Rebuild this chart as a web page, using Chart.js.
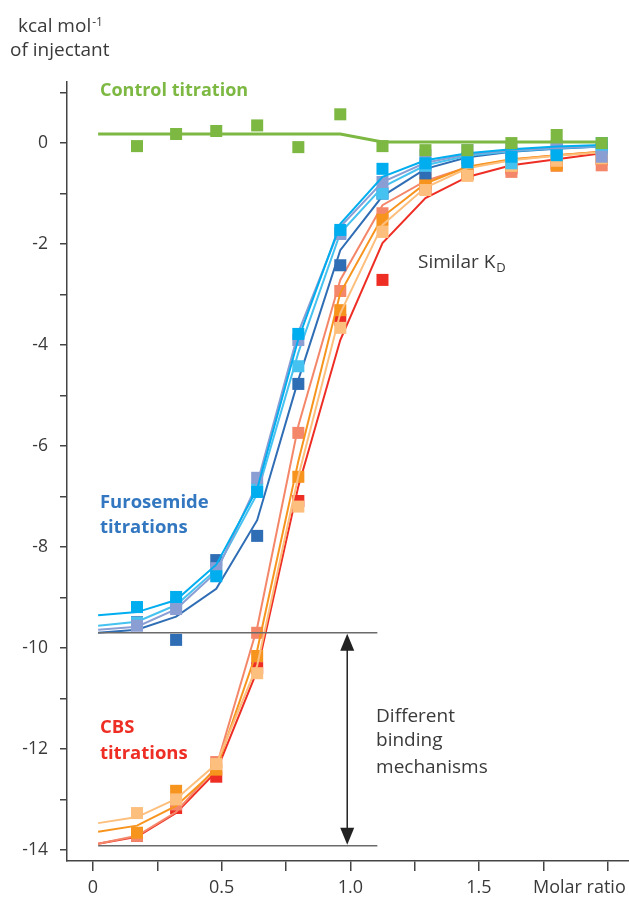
<!DOCTYPE html>
<html><head><meta charset="utf-8">
<script src="https://cdn.jsdelivr.net/npm/chart.js@4.4.1/dist/chart.umd.min.js"></script>
<style>html,body{margin:0;padding:0;background:#fff;overflow:hidden}</style>
</head><body>
<canvas id="c" width="629" height="902"></canvas>
<script>
// ---- Data (molar ratio, kcal/mol of injectant) ----
const xFit = [0.02, 0.171, 0.323, 0.479, 0.638, 0.798, 0.961, 1.125, 1.292, 1.455, 1.626, 1.802, 1.977];
const xPts = [0.171, 0.323, 0.479, 0.638, 0.798, 0.961, 1.125, 1.292, 1.455, 1.626, 1.802, 1.977];

const controlPts = [-0.06, 0.18, 0.24, 0.35, -0.08, 0.57, -0.06, -0.14, -0.14, 0.0, 0.16, 0.0];
const controlFit = [0.18, 0.18, 0.18, 0.18, 0.18, 0.18, 0.18, 0.02, 0.02, 0.02, 0.02, 0.02, 0.02];

const furoDarkPts  = [-9.49, -9.84, -8.26, -7.78, -4.77, -2.42, -1.0, -0.6, -0.3, -0.2, -0.12, -0.08];
const furoDarkFit  = [-9.70, -9.64, -9.38, -8.83, -7.47, -4.69, -2.12, -1.05, -0.51, -0.28, -0.17, -0.11, -0.07];
const furoLavPts   = [-9.56, -9.23, -8.42, -6.63, -3.9, -1.8, -0.77, -0.24, -0.14, -0.08, -0.05, -0.27];
const furoLavFit   = [-9.64, -9.58, -9.23, -8.50, -6.75, -3.75, -1.66, -0.77, -0.39, -0.22, -0.14, -0.09, -0.06];
const furoLightPts = [-9.50, -9.12, -8.50, -6.85, -4.42, -1.78, -1.0, -0.45, -0.32, -0.40, -0.20, -0.10];
const furoLightFit = [-9.56, -9.48, -9.15, -8.45, -6.95, -4.15, -1.78, -0.87, -0.44, -0.25, -0.16, -0.10, -0.07];
const furoCyanPts  = [-9.19, -8.99, -8.58, -6.91, -3.78, -1.72, -0.51, -0.40, -0.38, -0.27, -0.24, 0.0];
const furoCyanFit  = [-9.35, -9.29, -9.05, -8.35, -6.85, -3.88, -1.60, -0.67, -0.34, -0.20, -0.12, -0.07, -0.04];

const cbsRedPts    = [-13.72, -13.17, -12.55, -10.40, -7.09, -3.50, -2.71, -0.90, -0.62, -0.50, -0.40, -0.32];
const cbsRedFit    = [-13.88, -13.74, -13.27, -12.45, -10.45, -6.80, -3.90, -1.98, -1.09, -0.67, -0.44, -0.32, -0.20];
const cbsSalPts    = [-13.72, -13.10, -12.26, -9.70, -5.74, -2.93, -1.39, -0.70, -0.50, -0.57, -0.45, -0.44];
const cbsSalFit    = [-13.88, -13.72, -13.25, -12.36, -9.60, -5.60, -2.71, -1.23, -0.75, -0.48, -0.33, -0.24, -0.17];
const cbsOrPts     = [-13.66, -12.83, -12.41, -10.16, -6.61, -3.31, -1.52, -0.80, -0.60, -0.45, -0.44, -0.30];
const cbsOrFit     = [-13.64, -13.52, -13.13, -12.40, -10.05, -6.30, -2.97, -1.46, -0.80, -0.47, -0.32, -0.24, -0.17];
const cbsLoPts     = [-13.27, -13.00, -12.30, -10.50, -7.20, -3.66, -1.76, -0.93, -0.65, -0.45, -0.35, -0.30];
const cbsLoFit     = [-13.47, -13.35, -12.99, -12.30, -10.35, -6.60, -3.37, -1.62, -0.88, -0.50, -0.34, -0.25, -0.18];

const xTickLabels = {"0": "0", "0.5": "0.5", "1": "1.0", "1.5": "1.5"};
const yTickLabels = [0, -2, -4, -6, -8, -10, -12, -14];

// annotation anchors (data units)
const refLevels = [-9.70, -13.92];
const refSpan = [0.02, 1.105];
const arrowX = 0.988;

const GREEN = '#7cb842', DKBLUE = '#2f6db5', LAV = '#8a9ed4', LTBLUE = '#45c2f0', CYAN = '#00aeef';
const RED = '#ee2e24', SAL = '#f4876a', ORANGE = '#f7941e', LTOR = '#fdbf7d';
const TXT = '#3a3a3a';

const pts = (xs, ys) => xs.map((x, i) => ({x, y: ys[i]}));

function fitDs(ys, color, order, w) {
  return {data: pts(xFit, ys), showLine: true, borderColor: color, borderWidth: w || 2,
    pointRadius: 0, tension: 0, fill: false, order};
}
function ptDs(ys, color, order) {
  return {data: pts(xPts, ys), showLine: false, pointStyle: 'rect', pointRadius: 8.5,
    pointHoverRadius: 8.5, backgroundColor: color, borderWidth: 0, order};
}

const datasets = [
  ptDs(cbsRedPts, RED, 40), fitDs(cbsRedFit, RED, 39),
  ptDs(cbsSalPts, SAL, 38), fitDs(cbsSalFit, SAL, 37),
  ptDs(cbsOrPts, ORANGE, 36), fitDs(cbsOrFit, ORANGE, 35),
  ptDs(cbsLoPts, LTOR, 34), fitDs(cbsLoFit, LTOR, 33),
  ptDs(furoDarkPts, DKBLUE, 30), fitDs(furoDarkFit, DKBLUE, 29),
  ptDs(furoLightPts, LTBLUE, 28), fitDs(furoLightFit, LTBLUE, 27),
  ptDs(furoLavPts, LAV, 26), fitDs(furoLavFit, LAV, 25),
  ptDs(furoCyanPts, CYAN, 24), fitDs(furoCyanFit, CYAN, 23),
  ptDs(controlPts, GREEN, 20), fitDs(controlFit, GREEN, 19, 3),
];

const FONT = "'Open Sans', 'Noto Sans', sans-serif";

const annot = {
  id: 'annot',
  afterDatasetsDraw(chart) {
    const {ctx, scales: {x, y}} = chart;
    ctx.save();
    // reference lines
    ctx.strokeStyle = '#6b6b6b'; ctx.lineWidth = 1.5;
    refLevels.forEach(v => {
      ctx.beginPath();
      ctx.moveTo(x.getPixelForValue(refSpan[0]), y.getPixelForValue(v));
      ctx.lineTo(x.getPixelForValue(refSpan[1]), y.getPixelForValue(v));
      ctx.stroke();
    });
    // double arrow
    const ax = x.getPixelForValue(arrowX);
    const yTop = y.getPixelForValue(refLevels[0]), yBot = y.getPixelForValue(refLevels[1]);
    ctx.strokeStyle = '#222'; ctx.fillStyle = '#222'; ctx.lineWidth = 1.5;
    ctx.beginPath(); ctx.moveTo(ax, yTop + 10); ctx.lineTo(ax, yBot - 10); ctx.stroke();
    ctx.beginPath(); ctx.moveTo(ax, yTop + 1); ctx.lineTo(ax - 7, yTop + 18); ctx.lineTo(ax + 7, yTop + 18); ctx.closePath(); ctx.fill();
    ctx.beginPath(); ctx.moveTo(ax, yBot - 1); ctx.lineTo(ax - 7, yBot - 18); ctx.lineTo(ax + 7, yBot - 18); ctx.closePath(); ctx.fill();

    ctx.textBaseline = 'middle'; ctx.textAlign = 'left';
    const txt = (s, xv, yv, color, bold, size) => {
      ctx.font = (bold ? 'bold ' : '') + (size || 18) + 'px ' + FONT;
      ctx.fillStyle = color;
      ctx.fillText(s, x.getPixelForValue(xv), y.getPixelForValue(yv));
    };
    txt('Control titration', 0.027, 1.03, GREEN, true, 18);
    txt('Furosemide', 0.027, -7.13, '#3277c0', true, 18.5);
    txt('titrations', 0.027, -7.62, '#3277c0', true, 18.5);
    txt('CBS', 0.027, -11.58, RED, true, 18.5);
    txt('titrations', 0.027, -12.10, RED, true, 18.5);
    txt('Different', 1.10, -11.35, TXT, false, 19);
    txt('binding', 1.10, -11.84, TXT, false, 19);
    txt('mechanisms', 1.10, -12.36, TXT, false, 19);
    // Similar K_D
    ctx.font = '19px ' + FONT; ctx.fillStyle = TXT;
    const sx = x.getPixelForValue(1.263), sy = y.getPixelForValue(-2.36);
    ctx.fillText('Similar K', sx, sy);
    const w = ctx.measureText('Similar K').width;
    ctx.font = '13px ' + FONT;
    ctx.fillText('D', sx + w + 1, sy + 6);
    ctx.restore();
  },
  afterDraw(chart) {
    const {ctx} = chart;
    ctx.save();
    ctx.fillStyle = TXT; ctx.textBaseline = 'alphabetic'; ctx.textAlign = 'left';
    ctx.font = '19px ' + FONT;
    ctx.fillText('kcal mol', 18, 32);
    const w = ctx.measureText('kcal mol').width;
    ctx.font = '12px ' + FONT;
    ctx.fillText('-1', 18 + w + 1, 26);
    ctx.font = '19px ' + FONT;
    ctx.fillText('of injectant', 10, 56);
    ctx.font = '18px ' + FONT; ctx.textBaseline = 'middle';
    ctx.fillText('Molar ratio', 533, 888);
    ctx.restore();
  }
};

new Chart(document.getElementById('c'), {
  type: 'scatter',
  data: {datasets},
  options: {
    responsive: false, animation: false,
    layout: {autoPadding: false, padding: {top: 82, left: 0, right: 0, bottom: 0}},
    plugins: {legend: {display: false}, tooltip: {enabled: false}},
    scales: {
      x: {
        type: 'linear', position: 'bottom', min: -0.101, max: 2.083,
        border: {display: true, color: '#444', width: 1.5},
        grid: {drawOnChartArea: false, drawTicks: true, tickLength: 10, color: '#444', lineWidth: 1.5},
        ticks: {stepSize: 0.25, includeBounds: false, autoSkip: false, maxRotation: 0, padding: 6,
          color: TXT, font: {family: FONT, size: 18},
          callback: v => { const k = String(Math.round(v * 100) / 100); return xTickLabels[k] !== undefined ? xTickLabels[k] : ''; }},
        afterFit: s => { s.height = 41; s.paddingRight = 0; s.paddingLeft = 0; }
      },
      y: {
        type: 'linear', min: -14.22, max: 1.21,
        border: {display: true, color: '#444', width: 1.5},
        grid: {drawOnChartArea: false, drawTicks: true, tickLength: 7, color: '#444', lineWidth: 1.5},
        ticks: {stepSize: 1, includeBounds: false, autoSkip: false, padding: 12,
          color: TXT, font: {family: FONT, size: 17.5},
          callback: v => yTickLabels.includes(Math.round(v)) && Math.abs(v - Math.round(v)) < 1e-6 ? String(Math.round(v)) : ''},
        afterFit: s => { s.width = 67; s.paddingTop = 0; s.paddingBottom = 0; }
      }
    }
  },
  plugins: [annot]
});
</script>
</body></html>
